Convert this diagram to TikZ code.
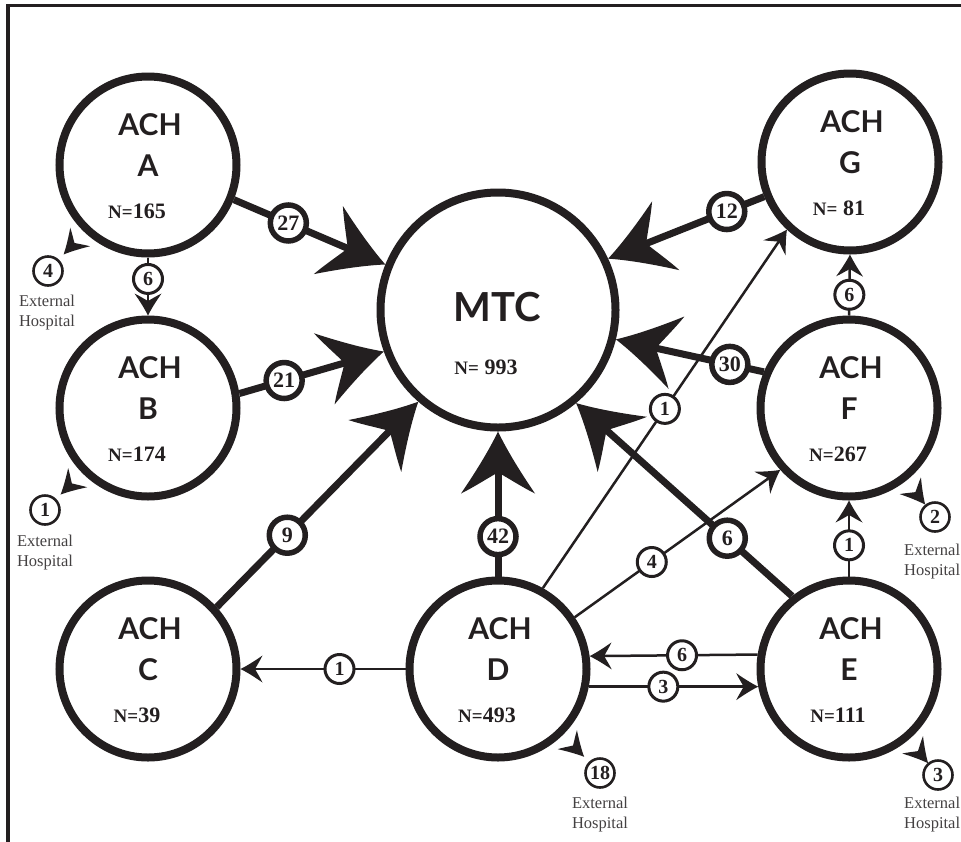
\documentclass[tikz,border=0pt]{standalone}
\usepackage{fontspec}
\setmainfont{Liberation Serif}
\newfontfamily\labfont{Lato}
\newfontfamily\numfont{Liberation Serif}
\usetikzlibrary{arrows.meta,calc}
\definecolor{ink}{HTML}{231F20}

\pgfdeclarearrow{
  name = Fang,
  parameters = {\the\pgfarrowlength,\the\pgfarrowwidth},
  setup code = {
    \pgfarrowssettipend{0pt}
    \pgfarrowssetlineend{-0.55\pgfarrowlength}
    \pgfarrowssetbackend{-\pgfarrowlength}
    \pgfarrowssavethe\pgfarrowlength
    \pgfarrowssavethe\pgfarrowwidth
  },
  drawing code = {
    \pgfpathmoveto{\pgfqpoint{0pt}{0pt}}
    \pgfpathcurveto{\pgfqpoint{-0.3\pgfarrowlength}{0.12\pgfarrowwidth}}{\pgfqpoint{-0.65\pgfarrowlength}{0.3\pgfarrowwidth}}{\pgfqpoint{-\pgfarrowlength}{0.5\pgfarrowwidth}}
    \pgfpathcurveto{\pgfqpoint{-0.9\pgfarrowlength}{0.33\pgfarrowwidth}}{\pgfqpoint{-0.76\pgfarrowlength}{0.15\pgfarrowwidth}}{\pgfqpoint{-0.66\pgfarrowlength}{0pt}}
    \pgfpathcurveto{\pgfqpoint{-0.76\pgfarrowlength}{-0.15\pgfarrowwidth}}{\pgfqpoint{-0.9\pgfarrowlength}{-0.33\pgfarrowwidth}}{\pgfqpoint{-\pgfarrowlength}{-0.5\pgfarrowwidth}}
    \pgfpathcurveto{\pgfqpoint{-0.65\pgfarrowlength}{-0.3\pgfarrowwidth}}{\pgfqpoint{-0.3\pgfarrowlength}{-0.12\pgfarrowwidth}}{\pgfqpoint{0pt}{0pt}}
    \pgfpathclose
    \pgfusepathqfill
  },
  defaults = {length=20pt, width=20pt}
}

\tikzset{
  achc/.style={circle, draw=ink, line width=8pt, minimum size=177pt, inner sep=0pt, fill=white},
  mtcc/.style={circle, draw=ink, line width=8pt, minimum size=235pt, inner sep=0pt, fill=white},
  achtxt/.style={inner sep=0pt, text=ink, font=\labfont\bfseries\fontsize{30}{30}\selectfont},
  mtctxt/.style={inner sep=0pt, text=ink, font=\labfont\bfseries\fontsize{40}{40}\selectfont},
  ntxt/.style={inner sep=0pt, text=ink, font=\numfont\bfseries\fontsize{22}{22}\selectfont},
  flowbig/.style={color=ink, line width=7pt, -{Fang[length=62pt,width=74pt]}},
  flowthin/.style={color=ink, line width=2.5pt, -{Fang[length=22pt,width=27pt]}},
  extarr/.style={color=ink, line width=0.4pt, -{Fang[length=24pt,width=27pt]}},
  bignum/.style={circle, draw=ink, line width=5.5pt, fill=white, minimum size=36pt, inner sep=0pt, text=ink, font=\numfont\bfseries\fontsize{22}{22}\selectfont},
  thinnum/.style={circle, draw=ink, line width=3pt, fill=white, minimum size=29pt, inner sep=0pt, text=ink, font=\numfont\bfseries\fontsize{20}{20}\selectfont},
  extnum/.style={circle, draw=ink, line width=2.6pt, fill=white, minimum size=29pt, inner sep=0pt, text=ink, font=\numfont\bfseries\fontsize{20}{20}\selectfont},
  exttxt/.style={inner sep=0pt, align=center, text=ink!85, font=\numfont\fontsize{16.5}{20}\selectfont},
}

\newcommand\Nlab{\fontsize{19}{19}\selectfont N=}
\newcommand\achnode[5]{%
  \node[achc] (#1) at (#2,#3) {};
  \node[achtxt] (#1a) at (#2+2,#3-40) {ACH};
  \node[achtxt] (#1b) at (#2,#3+1) {#4};
  \node[ntxt] (#1c) at (#2-11,#3+46) {#5};
}

\begin{document}
\begin{tikzpicture}[x=1pt,y=-1pt]
\useasboundingbox (0,0) rectangle (961,841);
\fill[white] (0,0) rectangle (961,841);
\draw[ink, line width=3.3pt, line join=miter] (8,850) -- (8,5.7) -- (970,5.7);

% main nodes
\node[mtcc] (MTC) at (498,310) {};
\node[mtctxt] (mtcT) at (497,307) {MTC};
\node[ntxt] (mtcN) at (486,367) {{\Nlab} 993};

\achnode{A}{148}{165}{A}{{\Nlab}165}
\achnode{B}{148}{408}{B}{{\Nlab}174}
\achnode{C}{148}{669}{C}{{\Nlab}39}
\achnode{D}{498}{669}{D}{{\Nlab}493}
\achnode{E}{849}{669}{E}{{\Nlab}111}
\achnode{F}{849}{408}{F}{{\Nlab}267}
\achnode{G}{850}{162}{G}{{\Nlab} 81}

% external hospitals
\node[extnum] (xA) at (48,271) {4};
\node[exttxt] (xAt) at (47,313) {External\\Hospital};
\node[extnum] (xB) at (45,510) {1};
\node[exttxt] (xBt) at (45,553) {External\\Hospital};
\node[extnum] (xD) at (600,773) {18};
\node[exttxt] (xDt) at (600,815) {External\\Hospital};
\node[extnum] (xF) at (935,517) {2};
\node[exttxt, anchor=west] (xFt) at (904,562) {External\\Hospital};
\node[extnum] (xE) at (938,775) {3};
\node[exttxt, anchor=west] (xEt) at (904,815) {External\\Hospital};

\draw[extarr] ($(A)!108pt!(xA)$) -- ($(A)!123pt!(xA)$);
\draw[extarr] ($(B)!108pt!(xB)$) -- ($(B)!123pt!(xB)$);
\draw[extarr] ($(D)!108pt!(xD)$) -- ($(D)!123pt!(xD)$);
\draw[extarr] ($(F)!108pt!(xF)$) -- ($(F)!123pt!(xF)$);
\draw[extarr] ($(E)!108pt!(xE)$) -- ($(E)!123pt!(xE)$);

% thin flows
\draw[flowthin] (A.270) -- node[thinnum,pos=0.37] (fAB) {6} (B.90);
\draw[flowthin] (D.180) -- node[thinnum,pos=0.40] (fDC) {1} (C.0);
\draw[flowthin] (E.171.3) -- node[thinnum,pos=0.45] (fED) {6} (D.8.7);
\draw[flowthin] (D.-11.2) -- node[thinnum,pos=0.44] (fDE) {3} (E.191.2);
\draw[flowthin] (D.61) -- node[thinnum,pos=0.5] (fDG) {1} (G.227);
\draw[flowthin] (D.34) -- node[thinnum,pos=0.375] (fDF) {4} (F.222);
\draw[flowthin] (E.90) -- node[thinnum,pos=0.41] (fEF) {1} (F.270);
\draw[flowthin] (F.90) -- node[thinnum,pos=0.34] (fFG) {6} (G.270);

% thick flows to MTC
\draw[flowbig] (A.-22) -- node[bignum,pos=0.36] (fA) {27} (MTC.158.6);
\draw[flowbig] (B.9.5) -- node[bignum,pos=0.31] (fB) {21} (MTC.200);
\draw[flowbig] (C.42) -- node[bignum,pos=0.35] (fC) {9} (MTC.229.5);
\draw[flowbig] (D.90) -- node[bignum,pos=0.275] (fD) {42} (MTC.270);
\draw[flowbig] (E.128) -- node[bignum,pos=0.30] (fE) {6} (MTC.310);
\draw[flowbig] (F.157) -- node[bignum,pos=0.23] (fF) {30} (MTC.346);
\draw[flowbig] (G.202) -- node[bignum,pos=0.24] (fG) {12} (MTC.25);
\end{tikzpicture}
\end{document}
